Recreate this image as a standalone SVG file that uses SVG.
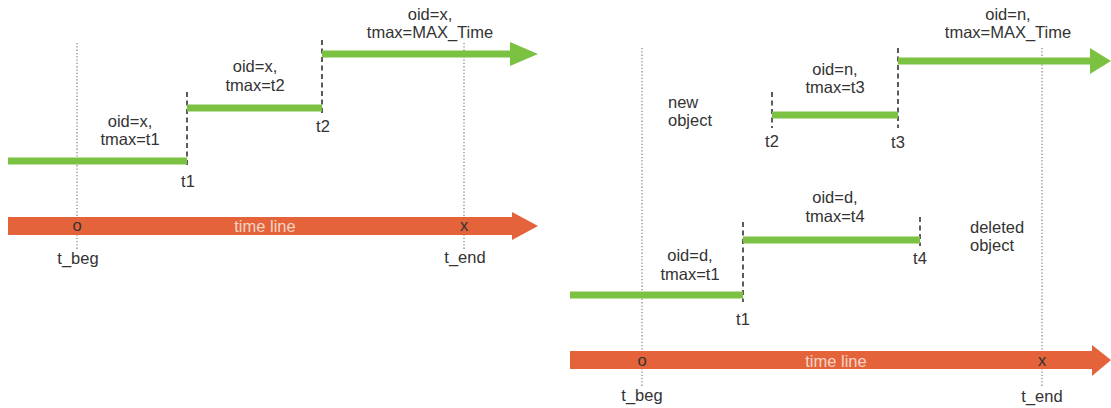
<svg xmlns="http://www.w3.org/2000/svg" width="1111" height="408" viewBox="0 0 1111 408">
<style>
text{font-family:"Liberation Sans",Arial,sans-serif;font-size:16.5px;fill:#333;}
.c{text-anchor:middle;}
.tl{fill:#f6d3c4;}
.dot{stroke:#8a8a8a;stroke-width:1.3;stroke-dasharray:1.3 2;fill:none;}
.dash{stroke:#333;stroke-width:1.6;stroke-dasharray:5 3.5;fill:none;}
.g{stroke:#7cc242;stroke-width:7;fill:none;}
.gh{fill:#7cc242;}
.o{fill:#e4633b;}
</style>
<rect width="1111" height="408" fill="#fff"/>
<g id="guides">
<line class="dot" x1="77" y1="43" x2="77" y2="250"/>
<line class="dot" x1="464" y1="43" x2="464" y2="250"/>
<line class="dot" x1="642" y1="48" x2="642" y2="387"/>
<line class="dot" x1="1042" y1="48" x2="1042" y2="387"/>
</g>
<g id="connectors">
<line class="dash" x1="187" y1="92" x2="187" y2="167"/>
<line class="dash" x1="322" y1="40" x2="322" y2="113"/>
<line class="dash" x1="772" y1="92" x2="772" y2="128"/>
<line class="dash" x1="898" y1="48" x2="898" y2="128"/>
<line class="dash" x1="743" y1="222" x2="743" y2="302"/>
<line class="dash" x1="920" y1="217" x2="920" y2="246"/>
</g>
<g id="left-x">
<line class="g" x1="8" y1="161" x2="187" y2="161"/>
<line class="g" x1="187" y1="108" x2="322" y2="108"/>
<line class="g" x1="322" y1="54" x2="512" y2="54"/>
<polygon class="gh" points="510,42 538,54 510,66"/>
<text class="c" x="130" y="127">oid=x,</text>
<text class="c" x="130" y="145">tmax=t1</text>
<text class="c" x="255" y="72">oid=x,</text>
<text class="c" x="255" y="91">tmax=t2</text>
<text class="c" x="430" y="20">oid=x,</text>
<text class="c" x="430" y="38">tmax=MAX_Time</text>
<text class="c" x="188" y="187">t1</text>
<text class="c" x="323" y="132">t2</text>
</g>
<g id="left-timeline">
<rect class="o" x="8" y="217" width="506" height="18"/>
<polygon class="o" points="512,212 538,226 512,240"/>
<text class="c" x="77" y="231">o</text>
<text class="c tl" x="265" y="232">time line</text>
<text class="c" x="464" y="231">x</text>
<text class="c" x="78" y="264">t_beg</text>
<text class="c" x="465" y="263">t_end</text>
</g>
<g id="right-new">
<line class="g" x1="772" y1="115" x2="898" y2="115"/>
<line class="g" x1="898" y1="61" x2="1092" y2="61"/>
<polygon class="gh" points="1090,48 1111,61 1090,74"/>
<text class="c" x="1008" y="20">oid=n,</text>
<text class="c" x="1008" y="38">tmax=MAX_Time</text>
<text class="c" x="835" y="75">oid=n,</text>
<text class="c" x="835" y="93">tmax=t3</text>
<text x="668" y="108">new</text>
<text x="668" y="126">object</text>
<text class="c" x="772" y="147">t2</text>
<text class="c" x="898" y="148">t3</text>
</g>
<g id="right-deleted">
<line class="g" x1="570" y1="295" x2="743" y2="295"/>
<line class="g" x1="743" y1="240" x2="920" y2="240"/>
<text class="c" x="835" y="203">oid=d,</text>
<text class="c" x="835" y="222">tmax=t4</text>
<text class="c" x="690" y="261">oid=d,</text>
<text class="c" x="690" y="280">tmax=t1</text>
<text class="c" x="743" y="325">t1</text>
<text class="c" x="920" y="264">t4</text>
<text x="970" y="233">deleted</text>
<text x="970" y="251">object</text>
</g>
<g id="right-timeline">
<rect class="o" x="570" y="351" width="524" height="18"/>
<polygon class="o" points="1092,345 1111,360 1092,376"/>
<text class="c" x="642" y="366">o</text>
<text class="c tl" x="836" y="367">time line</text>
<text class="c" x="1042" y="366">x</text>
<text class="c" x="642" y="401">t_beg</text>
<text class="c" x="1042" y="402">t_end</text>
</g>
</svg>
